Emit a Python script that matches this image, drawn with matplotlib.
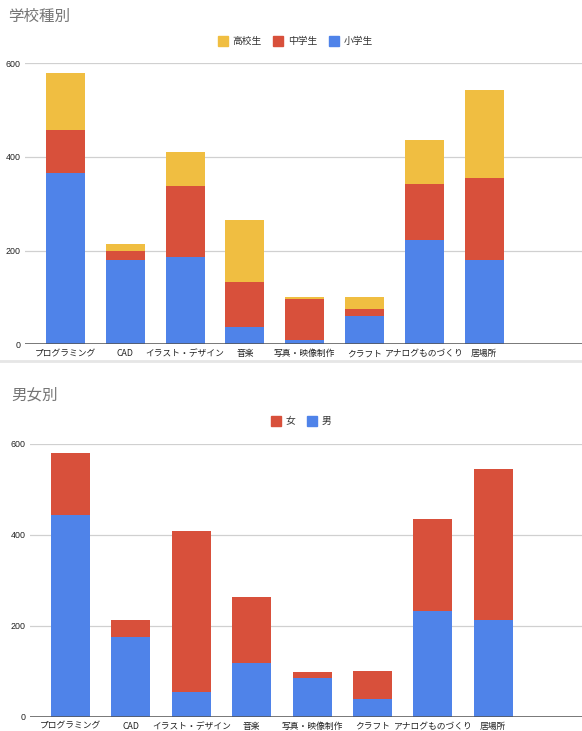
import matplotlib
matplotlib.use("Agg")
import matplotlib.pyplot as plt
from matplotlib.lines import Line2D
import numpy as np

plt.rcParams['font.family'] = ['Liberation Sans', 'Noto Sans CJK JP', 'DejaVu Sans']

categories = ["プログラミング", "CAD", "イラスト・デザイン", "音楽", "写真・映像制作", "クラフト", "アナログものづくり", "居場所"]

# 学校種別
elementary = [365, 179, 186, 38, 10, 60, 223, 179]   # 小学生
junior_high = [93, 20, 153, 94, 87, 15, 119, 176]    # 中学生
high_school = [121, 15, 71, 133, 3, 27, 94, 188]     # 高校生

# 男女別
male = [443, 175, 55, 118, 86, 39, 233, 214]     # 男
female = [136, 39, 354, 146, 13, 62, 202, 330]   # 女

yticks = [0, 200, 400, 600]

BLUE = "#4f83e9"
RED = "#d8503b"
YELLOW = "#f0be41"
GRID = "#d0d0d0"
TXT = "#222222"

W, H = 582, 731
fig = plt.figure(figsize=(W / 100, H / 100), dpi=100)


def fx(px):
    return px / W


def fy(py):
    return 1 - py / H


def style_axes(ax, xlim):
    ax.set_xlim(*xlim)
    ax.set_ylim(0, 600)
    ax.set_yticks(yticks)
    ax.set_yticklabels([str(v) for v in yticks], fontsize=6.4, color=TXT)
    ax.set_xticks(np.arange(len(categories)))
    ax.set_xticklabels(categories, fontsize=6.3, color=TXT,
                       family=['Noto Sans CJK JP', 'DejaVu Sans'])
    ax.tick_params(axis='both', length=0)
    ax.tick_params(axis='y', pad=3)
    ax.tick_params(axis='x', pad=3.5)
    for s in ax.spines.values():
        s.set_visible(False)
    ax.grid(axis='y', color=GRID, linewidth=0.9)
    ax.set_axisbelow(True)
    ax.axhline(0, color="#555555", linewidth=1.1, zorder=3)


x = np.arange(len(categories))

# ---- top chart ----
ax1 = fig.add_axes([fx(25), fy(344.3), fx(582 - 25), fy(63.3) - fy(344.3)])
style_axes(ax1, (-0.677, 8.637))
w1 = 0.652
e = np.array(elementary)
j = np.array(junior_high)
h = np.array(high_school)
ax1.bar(x, e, width=w1, color=BLUE, linewidth=0, zorder=2)
ax1.bar(x, j, width=w1, bottom=e, color=RED, linewidth=0, zorder=2)
ax1.bar(x, h, width=w1, bottom=e + j, color=YELLOW, linewidth=0, zorder=2)

fig.text(fx(8), fy(16), "学校種別", fontsize=11.2, color="#757575", va="center", ha="left")


def sq(c):
    return Line2D([], [], marker='s', linestyle='none', markersize=6.5,
                  markerfacecolor=c, markeredgecolor=c)


fig.legend([sq(YELLOW), sq(RED), sq(BLUE)], ["高校生", "中学生", "小学生"],
           loc="center", bbox_to_anchor=(fx(296), fy(41)), ncol=3, frameon=False,
           fontsize=7, handlelength=0.8, handletextpad=0.6, columnspacing=1.3,
           labelcolor="#333333")

# separator
fig.add_artist(Line2D([0, 1], [fy(361), fy(361)], color="#e6e6e6", linewidth=2,
                      transform=fig.transFigure))

# ---- bottom chart ----
ax2 = fig.add_axes([fx(30), fy(717), fx(582 - 30), fy(443.7) - fy(717)])
style_axes(ax2, (-0.67, 8.469))
w2 = 0.646
m = np.array(male)
f = np.array(female)
ax2.bar(x, m, width=w2, color=BLUE, linewidth=0, zorder=2)
ax2.bar(x, f, width=w2, bottom=m, color=RED, linewidth=0, zorder=2)

fig.text(fx(11), fy(395), "男女別", fontsize=11.2, color="#757575", va="center", ha="left")

fig.legend([sq(RED), sq(BLUE)], ["女", "男"],
           loc="center", bbox_to_anchor=(fx(302), fy(421)), ncol=2, frameon=False,
           fontsize=7, handlelength=0.8, handletextpad=0.6, columnspacing=1.3,
           labelcolor="#333333")

fig.savefig("out.png", dpi=100)
